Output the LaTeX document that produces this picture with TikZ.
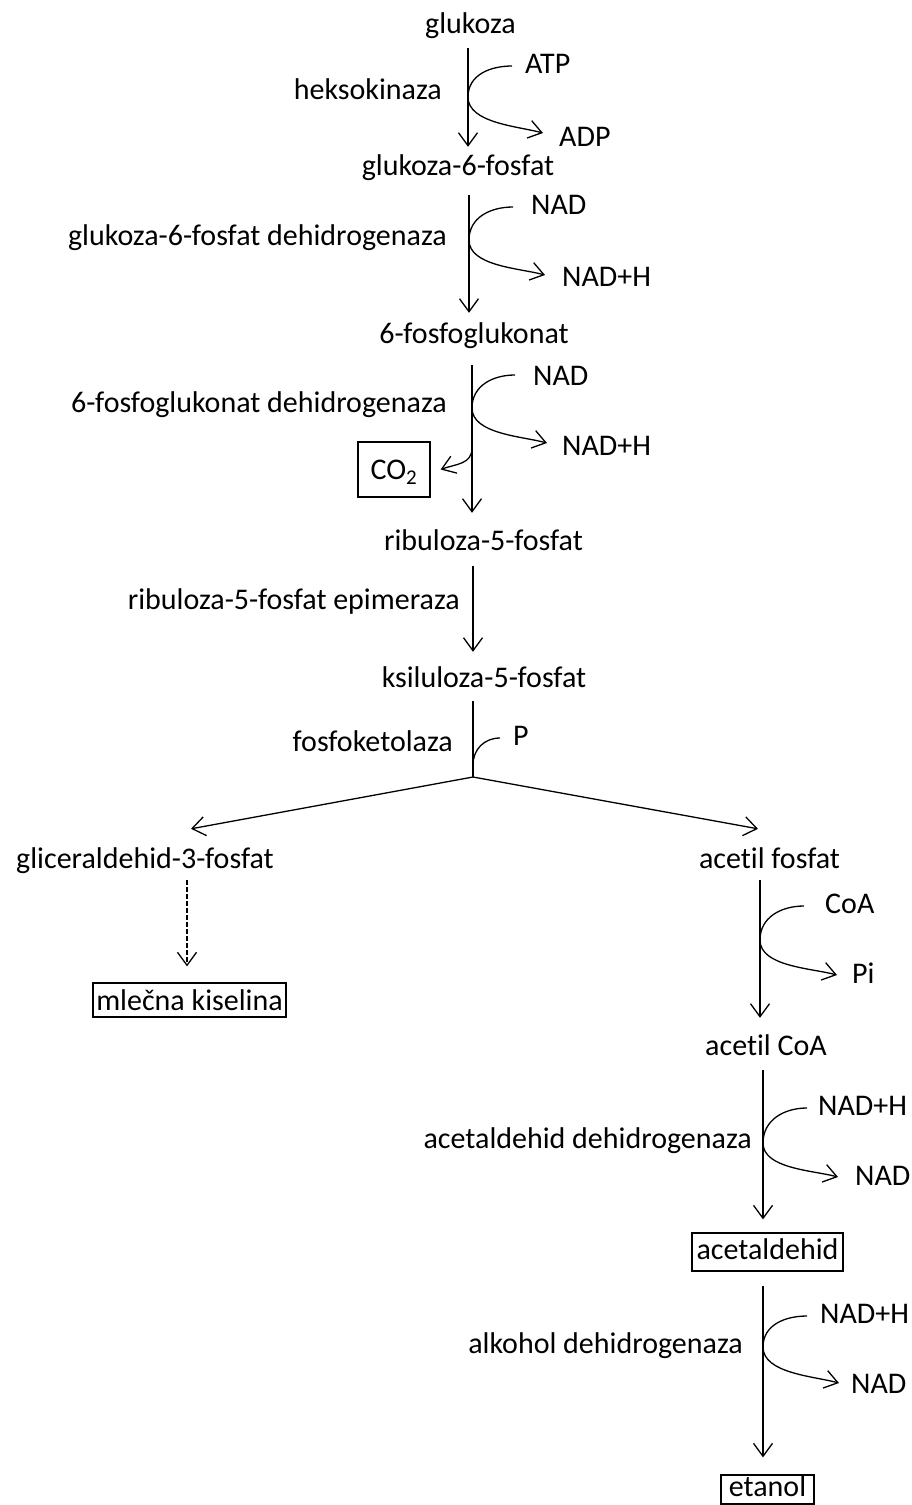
\documentclass[tikz,border=0pt]{standalone}
\usepackage{fontspec}
\setmainfont{Carlito}[Ligatures=NoCommon]
\usetikzlibrary{arrows.meta}
\begin{document}
\begin{tikzpicture}[x=1pt,y=-1pt,
  every node/.style={inner sep=0pt,font=\fontsize{30}{36}\selectfont},
  txt/.style={text height=21pt,text depth=7pt},
  boxed/.style={draw,line width=1.2pt},
  arr/.style={line width=1.3pt,-{Straight Barb[length=13pt,width=19pt,line width=1.3pt]}},
  cof/.style={line width=1.3pt,-{Straight Barb[length=13pt,width=18pt,line width=1.3pt]}},
  up/.style={out=180,in=90,looseness=1.05},
  down/.style={out=-90,in=165,looseness=0.8},
  pline/.style={line width=1.3pt}]
\useasboundingbox (0,0) rectangle (912,1505);
% metabolites
\node[txt,anchor=base] (glc) at (470.5,33) {glukoza};
\node[txt,anchor=base] (g6p) at (458,175) {glukoza-6-fosfat};
\node[txt,anchor=base] (pg) at (474,343) {6-fosfoglukonat};
\node[txt,anchor=base] (ru5p) at (483.5,550) {ribuloza-5-fosfat};
\node[txt,anchor=base] (xu5p) at (484,687) {ksiluloza-5-fosfat};
\node[txt,anchor=base] (g3p) at (145,868) {gliceraldehid-3-fosfat};
\node[txt,anchor=base] (acp) at (769.5,868) {acetil fosfat};
\node[txt,anchor=base] (accoa) at (766,1055) {acetil CoA};
\node[boxed,text height=20pt,text depth=0pt,minimum width=72pt,minimum height=55pt] (co2) at (394,469.5) {CO\textsubscript{2}};
\node[boxed,text height=20pt,text depth=0pt,minimum width=193pt,minimum height=34pt] (mk) at (189.5,1000) {mlečna kiselina};
\node[boxed,text height=14pt,text depth=0pt,minimum width=151pt,minimum height=38pt] (ald) at (767.5,1252) {acetaldehid};
\node[boxed,text height=14pt,text depth=0pt,minimum width=93pt,minimum height=29pt] (eta) at (767.5,1489.5) {etanol};
% enzymes
\node[txt,anchor=base east] (hk) at (442,99) {heksokinaza};
\node[txt,anchor=base east] (g6pdh) at (447,245) {glukoza-6-fosfat dehidrogenaza};
\node[txt,anchor=base east] (pgdh) at (447,412) {6-fosfoglukonat dehidrogenaza};
\node[txt,anchor=base east] (rpe) at (460,609) {ribuloza-5-fosfat epimeraza};
\node[txt,anchor=base east] (fk) at (453,751) {fosfoketolaza};
\node[txt,anchor=base east] (aldh) at (752,1148) {acetaldehid dehidrogenaza};
\node[txt,anchor=base east] (adh) at (743,1353) {alkohol dehidrogenaza};
% cofactors
\node[txt,anchor=base west] (atp) at (525,73) {ATP};
\node[txt,anchor=base west] (adp) at (559,146) {ADP};
\node[txt,anchor=base west] (nad1) at (531,214) {NAD};
\node[txt,anchor=base west] (nadh1) at (562,286) {NAD+H};
\node[txt,anchor=base west] (nad2) at (533,385) {NAD};
\node[txt,anchor=base west] (nadh2) at (562,455) {NAD+H};
\node[txt,anchor=base west] (p) at (513,745) {P};
\node[txt,anchor=base west] (coa) at (825,913) {CoA};
\node[txt,anchor=base west] (pi) at (852,983) {Pi};
\node[txt,anchor=base west] (nadh3) at (818,1115) {NAD+H};
\node[txt,anchor=base west] (nad3) at (855,1185) {NAD};
\node[txt,anchor=base west] (nadh4) at (820,1323) {NAD+H};
\node[txt,anchor=base west] (nad4) at (851,1393) {NAD};
% axis coordinates
\coordinate (ax1) at (468,0);
\coordinate (ax2) at (469,0);
\coordinate (ax3) at (472,0);
\coordinate (ax4) at (473,0);
\coordinate (ax6) at (760,0);
\coordinate (ax7) at (763,0);
\coordinate (axd) at (187,0);
\coordinate (t1) at (468,97);
\coordinate (t2) at (469,240);
\coordinate (t3) at (472,408);
\coordinate (tc) at (472,448);
\coordinate (tp) at (473,765);
\coordinate (J) at (473,777);
\coordinate (t6) at (760,940);
\coordinate (t7) at (763,1143);
\coordinate (t8) at (763,1347);
% main arrows
\draw[arr,shorten <=8pt,shorten >=7pt] (glc.south -| ax1) -- (g6p.north -| ax1);
\draw[arr,shorten <=13pt,shorten >=9pt] (g6p.south -| ax2) -- (pg.north -| ax2);
\draw[arr,shorten <=15pt,shorten >=16pt] (pg.south -| ax3) -- (ru5p.north -| ax3);
\draw[arr,shorten <=9pt,shorten >=14pt] (ru5p.south -| ax4) -- (xu5p.north -| ax4);
\draw[pline,shorten <=7pt] (xu5p.south -| ax4) -- (J);
\draw[arr] (J) -- ([xshift=46pt,yshift=18pt]g3p.north);
\draw[arr] (J) -- ([xshift=-11.5pt,yshift=18pt]acp.north);
\draw[arr,dash pattern=on 4.5pt off 2.5pt,shorten <=5pt,shorten >=16pt] (g3p.south -| axd) -- (mk.north -| axd);
\draw[arr,shorten <=5pt,shorten >=16pt] (acp.south -| ax6) -- (accoa.north -| ax6);
\draw[arr,shorten <=8pt,shorten >=13pt] (accoa.south -| ax7) -- (ald.north -| ax7);
\draw[arr,shorten <=14pt,shorten >=17pt] (ald.south -| ax7) -- (eta.north -| ax7);
% cofactor curves
\draw[cof] ([xshift=-13pt]atp.west) to[up] (t1) to[down] ([xshift=-16pt,yshift=6pt]adp.west);
\draw[cof] ([xshift=-18pt]nad1.west) to[up] (t2) to[down] ([xshift=-17pt,yshift=4pt]nadh1.west);
\draw[cof] ([xshift=-18pt,yshift=3pt]nad2.west) to[up] (t3) to[down] ([xshift=-15pt,yshift=5pt]nadh2.west);
\draw[cof] (tc) to[out=-90,in=20,looseness=1.1] ([xshift=10pt]co2.east);
\draw[pline] ([xshift=-13pt]p.west) to[up] (tp);
\draw[cof] ([xshift=-21pt]coa.west) to[up] (t6) to[down] ([xshift=-15pt,yshift=1pt]pi.west);
\draw[cof] ([xshift=-11pt]nadh3.west) to[up] (t7) to[down] ([xshift=-17pt,yshift=1pt]nad3.west);
\draw[cof] ([xshift=-13pt]nadh4.west) to[up] (t8) to[down] ([xshift=-12pt,yshift=3pt]nad4.west);
\end{tikzpicture}
\end{document}
